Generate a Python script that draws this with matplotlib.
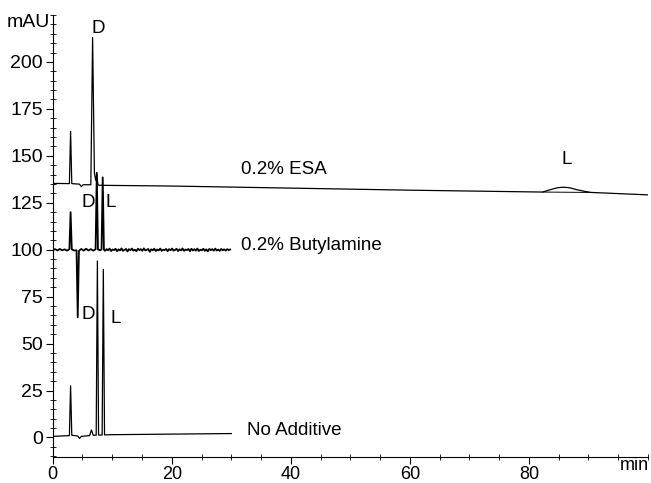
import matplotlib
matplotlib.use("Agg")
import matplotlib.pyplot as plt
from matplotlib.ticker import MultipleLocator

plt.rcParams['font.family'] = ['Liberation Sans', 'DejaVu Sans']

# 0.2% ESA trace (time in min, signal in mAU)
esa_t = [0, 2.8, 3.0, 3.2, 4.5, 4.8, 5.1, 6.4, 6.7, 7.0, 7.2, 7.4, 7.6, 8.0,
         20, 40, 60, 80, 82.3, 83.5, 84.8, 85.8, 86.8, 88.0, 89.3, 90.4,
         100]
esa_y = [135.3, 135.2, 163, 135.2, 134.9, 133.6, 134.6, 134.6, 213, 141, 137, 140,
         134.4, 134.3, 133.9, 132.8, 131.7, 130.8, 130.7, 131.9, 133.0, 133.3,
         133.0, 132.0, 131.1, 130.5, 129.2]
# integration baseline drawn under the L hump
esa_base_t = [82.3, 90.4]
esa_base_y = [130.7, 130.5]

# 0.2% Butylamine trace (noisy baseline near 100)
but_t = [0.0, 0.4, 0.8, 1.2, 1.6, 2.0, 2.4, 2.8, 3.0, 3.2, 3.6, 4.0, 4.2, 4.4,
         4.8, 5.2, 5.6, 6.0, 6.4, 6.8, 7.2, 7.4, 7.6, 8.0, 8.2, 8.4, 8.6,
         8.8, 9.05, 9.3, 9.55, 9.8, 10.05, 10.3, 10.55, 10.8, 11.05, 11.3,
         11.55, 11.8, 12.05, 12.3, 12.55, 12.8, 13.05, 13.3, 13.55, 13.8,
         14.05, 14.3, 14.55, 14.8, 15.05, 15.3, 15.55, 15.8, 16.05, 16.3,
         16.55, 16.8, 17.05, 17.3, 17.55, 17.8, 18.05, 18.3, 18.55, 18.8,
         19.05, 19.3, 19.55, 19.8, 20.05, 20.3, 20.55, 20.8, 21.05, 21.3,
         21.55, 21.8, 22.05, 22.3, 22.55, 22.8, 23.05, 23.3, 23.55, 23.8,
         24.05, 24.3, 24.55, 24.8, 25.05, 25.3, 25.55, 25.8, 26.05, 26.3,
         26.55, 26.8, 27.05, 27.3, 27.55, 27.8, 28.05, 28.3, 28.55, 28.8,
         29.05, 29.3, 29.55, 29.8]
but_y = [99.8, 100.3, 99.6, 100.4, 99.7, 100.2, 99.5, 100.3, 120, 100.2, 99.6,
         99.7, 64, 99.4, 100.4, 99.5, 100.5, 99.6, 100.3, 99.5, 100.2, 141, 100.1,
         99.7, 100.2, 138.5, 100.0,
         99.4, 100.3, 99.7, 100.6, 99.3, 100.1, 99.8, 100.5, 99.2, 100.2,
         99.6, 100.7, 99.4, 99.9, 100.4, 99.1, 100.3, 99.7, 100.6, 99.5,
         100.0, 99.2, 100.5, 99.8, 100.3, 99.4, 100.7, 99.6, 99.9, 100.4,
         98.9, 100.2, 99.7, 100.5, 99.3, 100.1, 99.6, 100.6, 99.4, 100.0,
         99.8, 100.4, 99.2, 100.3, 99.7, 100.6, 99.5, 99.9, 100.5, 99.3,
         100.2, 99.6, 100.7, 99.4, 100.1, 99.8, 100.4, 99.2, 100.5, 99.6,
         100.3, 99.5, 100.6, 99.3, 100.0, 99.7, 100.5, 99.4, 100.2, 99.1,
         100.4, 99.8, 100.3, 99.5, 100.6, 99.6, 100.1, 99.4, 100.4, 99.7,
         100.2, 99.5, 100.3, 99.8, 100.1]

# No Additive trace
na_t = [0, 2.8, 3.0, 3.2, 4.2, 4.5, 4.8, 6.2, 6.5, 6.8, 7.3, 7.5, 7.7,
        8.3, 8.5, 8.7, 10, 30]
na_y = [0.6, 1.0, 27.5, 1.2, 0.8, -0.5, 0.6, 1.0, 4.0, 1.2, 1.2, 94, 1.3,
        1.3, 89.5, 1.4, 1.5, 2.1]

# text labels: (x, y, text)
labels = [(7.7, 218, 'D'), (31.6, 142.5, '0.2% ESA'), (86.4, 148, 'L'),
          (5.9, 125, 'D'), (9.7, 125, 'L'), (31.6, 102.5, '0.2% Butylamine'),
          (5.9, 65.5, 'D'), (10.6, 63.5, 'L'), (32.6, 3.5, 'No Additive')]

fig = plt.figure(figsize=(6.51, 4.83), dpi=100)
ax = fig.add_axes([0.081, 0.053, 0.9144, 0.916])

ax.plot(esa_t, esa_y, color='k', lw=0.9)
ax.plot(esa_base_t, esa_base_y, color='k', lw=0.7)
ax.plot(but_t, but_y, color='k', lw=1.3)
ax.plot(na_t, na_y, color='k', lw=0.9)

for x, y, s in labels:
    ax.text(x, y, s, fontsize=13.5, ha='center' if len(s) == 1 else 'left',
            va='center')

ax.set_xlim(0, 100)
ax.set_ylim(-10.6, 225)
ax.spines['top'].set_visible(False)
ax.spines['right'].set_visible(False)
ax.set_xticks([0, 20, 40, 60, 80])
ax.xaxis.set_minor_locator(MultipleLocator(5))
ax.set_yticks([0, 25, 50, 75, 100, 125, 150, 175, 200])
ax.yaxis.set_minor_locator(MultipleLocator(5))
ax.tick_params(which='major', direction='out', length=5, labelsize=14, pad=2)
ax.tick_params(axis='x', which='major', labelsize=13, pad=1)
ax.tick_params(which='minor', direction='inout', length=4)

fig.text(0.077, 0.954, 'mAU', fontsize=14, ha='right', va='center')
fig.text(0.997, 0.037, 'min', fontsize=13, ha='right', va='center')

fig.savefig('out.png', dpi=100)
